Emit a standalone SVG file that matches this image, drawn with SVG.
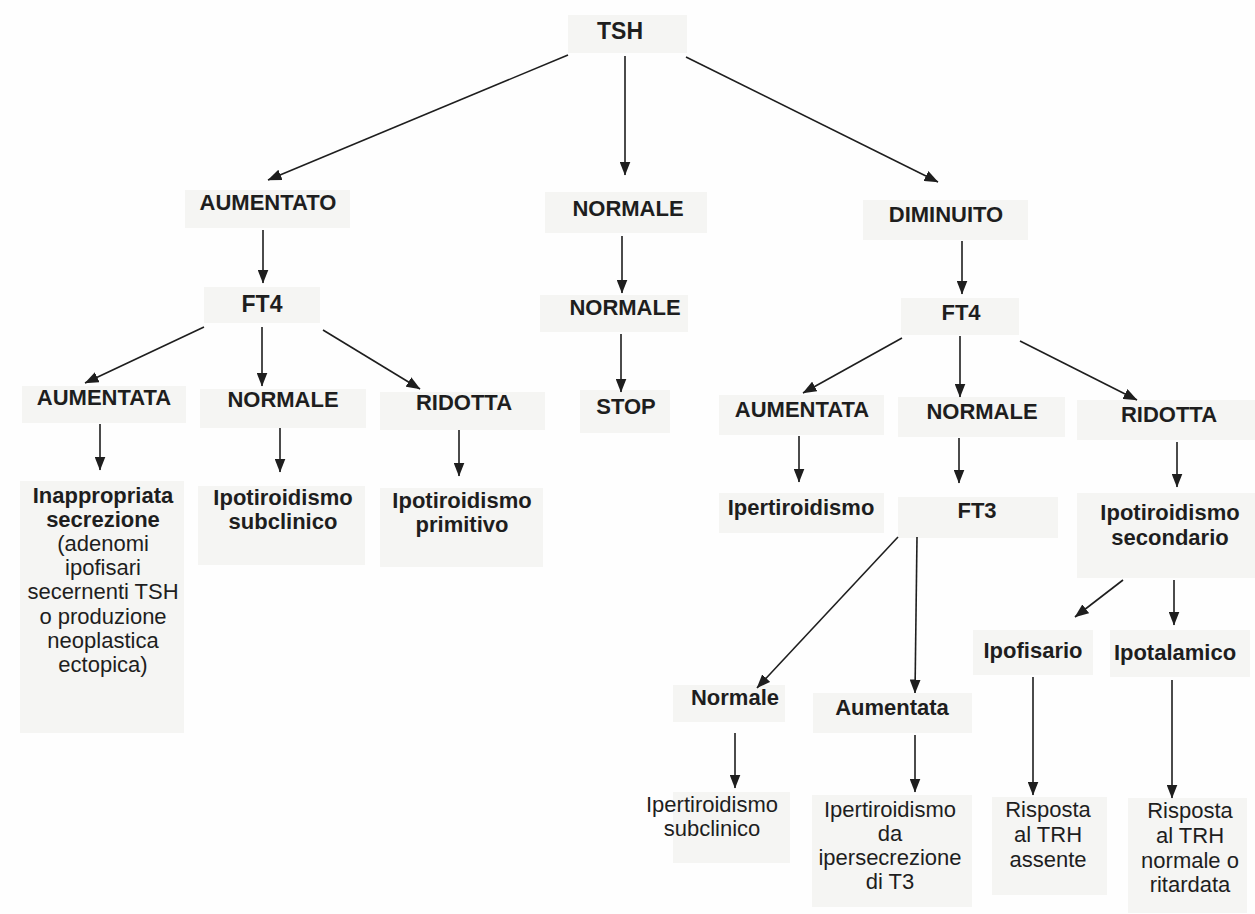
<svg xmlns="http://www.w3.org/2000/svg" width="1255" height="914" viewBox="0 0 1255 914">
<style>
.bg{fill:#fefefe}
.box{fill:#f5f5f3}
text{font-family:"Liberation Sans",Arial,sans-serif;fill:#1e1e1e;text-anchor:middle}
.b{font-weight:bold;font-size:22px}
.r{font-size:22px}
.t{font-weight:bold;font-size:23px}
.c line{stroke:#1e1e1e;stroke-width:1.6;marker-end:url(#ah)}
</style>
<defs>
<marker id="ah" viewBox="0 0 14 11" refX="13.5" refY="5.5" markerWidth="14" markerHeight="11" markerUnits="userSpaceOnUse" orient="auto">
<path d="M0,0 L14,5.5 L0,11 z" fill="#1e1e1e"/>
</marker>
</defs>
<rect class="bg" x="0" y="0" width="1255" height="914"/>

<g id="tsh"><rect class="box" x="568" y="15" width="119" height="38"/><text class="t" x="620" y="39">TSH</text></g>
<g id="aumentato"><rect class="box" x="185" y="190" width="165" height="38"/><text class="b" x="268" y="210">AUMENTATO</text></g>
<g id="normale-top"><rect class="box" x="545" y="192" width="162" height="41"/><text class="b" x="628" y="216">NORMALE</text></g>
<g id="diminuito"><rect class="box" x="863" y="200" width="165" height="40"/><text class="b" x="946" y="222">DIMINUITO</text></g>
<g id="ft4-left"><rect class="box" x="204" y="287" width="116" height="36"/><text class="t" x="262" y="312">FT4</text></g>
<g id="normale-mid"><rect class="box" x="540" y="295" width="148" height="37"/><text class="b" x="625" y="315">NORMALE</text></g>
<g id="ft4-right"><rect class="box" x="901" y="298" width="118" height="37"/><text class="b" x="961" y="320">FT4</text></g>
<g id="stop"><rect class="box" x="580" y="390" width="90" height="43"/><text class="b" x="626" y="414">STOP</text></g>

<g id="aumentata-left"><rect class="box" x="22" y="386" width="164" height="37"/><text class="b" x="104" y="405">AUMENTATA</text></g>
<g id="normale-left"><rect class="box" x="200" y="389" width="166" height="39"/><text class="b" x="283" y="407">NORMALE</text></g>
<g id="ridotta-left"><rect class="box" x="380" y="392" width="165" height="38"/><text class="b" x="464" y="410">RIDOTTA</text></g>

<g id="inappropriata"><rect class="box" x="20" y="481" width="164" height="252"/>
<text class="b" x="103" y="503">Inappropriata</text>
<text class="b" x="103" y="527">secrezione</text>
<text class="r" x="103" y="551">(adenomi</text>
<text class="r" x="103" y="575">ipofisari</text>
<text class="r" x="103" y="599">secernenti TSH</text>
<text class="r" x="103" y="624">o produzione</text>
<text class="r" x="103" y="648">neoplastica</text>
<text class="r" x="103" y="672">ectopica)</text>
</g>
<g id="ipo-subclinico"><rect class="box" x="198" y="486" width="167" height="79"/>
<text class="b" x="283" y="505">Ipotiroidismo</text><text class="b" x="283" y="529">subclinico</text></g>
<g id="ipo-primitivo"><rect class="box" x="380" y="488" width="163" height="79"/>
<text class="b" x="462" y="508">Ipotiroidismo</text><text class="b" x="462" y="532">primitivo</text></g>

<g id="aumentata-right"><rect class="box" x="719" y="395" width="165" height="40"/><text class="b" x="802" y="417">AUMENTATA</text></g>
<g id="normale-right"><rect class="box" x="898" y="397" width="167" height="40"/><text class="b" x="982" y="419">NORMALE</text></g>
<g id="ridotta-right"><rect class="box" x="1077" y="400" width="178" height="40"/><text class="b" x="1169" y="422">RIDOTTA</text></g>

<g id="ipertiroidismo"><rect class="box" x="719" y="493" width="165" height="40"/><text class="b" x="801" y="515">Ipertiroidismo</text></g>
<g id="ft3"><rect class="box" x="898" y="497" width="160" height="41"/><text class="b" x="977" y="518">FT3</text></g>
<g id="ipo-secondario"><rect class="box" x="1077" y="493" width="178" height="85"/>
<text class="b" x="1170" y="520">Ipotiroidismo</text><text class="b" x="1170" y="545">secondario</text></g>

<g id="normale-ft3"><rect class="box" x="673" y="685" width="112" height="37"/><text class="b" x="735" y="705">Normale</text></g>
<g id="aumentata-ft3"><rect class="box" x="813" y="693" width="159" height="40"/><text class="b" x="892" y="715">Aumentata</text></g>
<g id="ipofisario"><rect class="box" x="973" y="630" width="120" height="45"/><text class="b" x="1033" y="658">Ipofisario</text></g>
<g id="ipotalamico"><rect class="box" x="1110" y="630" width="140" height="47"/><text class="b" x="1175" y="660">Ipotalamico</text></g>

<g id="iper-subclinico"><rect class="box" x="673" y="792" width="117" height="71"/>
<text class="r" x="712" y="812">Ipertiroidismo</text><text class="r" x="712" y="836">subclinico</text></g>
<g id="iper-t3"><rect class="box" x="812" y="795" width="160" height="112"/>
<text class="r" x="890" y="817">Ipertiroidismo</text><text class="r" x="890" y="841">da</text><text class="r" x="890" y="865">ipersecrezione</text><text class="r" x="890" y="889">di T3</text></g>
<g id="risposta-assente"><rect class="box" x="992" y="797" width="115" height="98"/>
<text class="r" x="1048" y="817">Risposta</text><text class="r" x="1048" y="842">al TRH</text><text class="r" x="1048" y="867">assente</text></g>
<g id="risposta-normale"><rect class="box" x="1128" y="798" width="119" height="115"/>
<text class="r" x="1190" y="818">Risposta</text><text class="r" x="1190" y="843">al TRH</text><text class="r" x="1190" y="868">normale o</text><text class="r" x="1190" y="892">ritardata</text></g>

<g id="connectors" class="c">
<line x1="568" y1="55" x2="268" y2="180"/>
<line x1="625" y1="56" x2="625" y2="175"/>
<line x1="686" y1="57" x2="938" y2="182"/>
<line x1="263" y1="230" x2="263" y2="283"/>
<line x1="622" y1="236" x2="622" y2="293"/>
<line x1="962" y1="241" x2="962" y2="294"/>
<line x1="621" y1="334" x2="621" y2="392"/>
<line x1="204" y1="327" x2="85" y2="383"/>
<line x1="262" y1="327" x2="262" y2="386"/>
<line x1="323" y1="330" x2="420" y2="389"/>
<line x1="100" y1="424" x2="100" y2="470"/>
<line x1="280" y1="428" x2="280" y2="472"/>
<line x1="459" y1="430" x2="459" y2="476"/>
<line x1="902" y1="338" x2="803" y2="393"/>
<line x1="960" y1="336" x2="960" y2="397"/>
<line x1="1020" y1="341" x2="1137" y2="400"/>
<line x1="799" y1="436" x2="799" y2="482"/>
<line x1="959" y1="438" x2="959" y2="483"/>
<line x1="1177" y1="442" x2="1177" y2="487"/>
<line x1="898" y1="537" x2="757" y2="688"/>
<line x1="917" y1="537" x2="915" y2="693"/>
<line x1="1123" y1="580" x2="1075" y2="617"/>
<line x1="1174" y1="580" x2="1174" y2="625"/>
<line x1="735" y1="733" x2="735" y2="788"/>
<line x1="915" y1="735" x2="915" y2="792"/>
<line x1="1033" y1="677" x2="1033" y2="795"/>
<line x1="1172" y1="680" x2="1172" y2="798"/>
</g>
</svg>
